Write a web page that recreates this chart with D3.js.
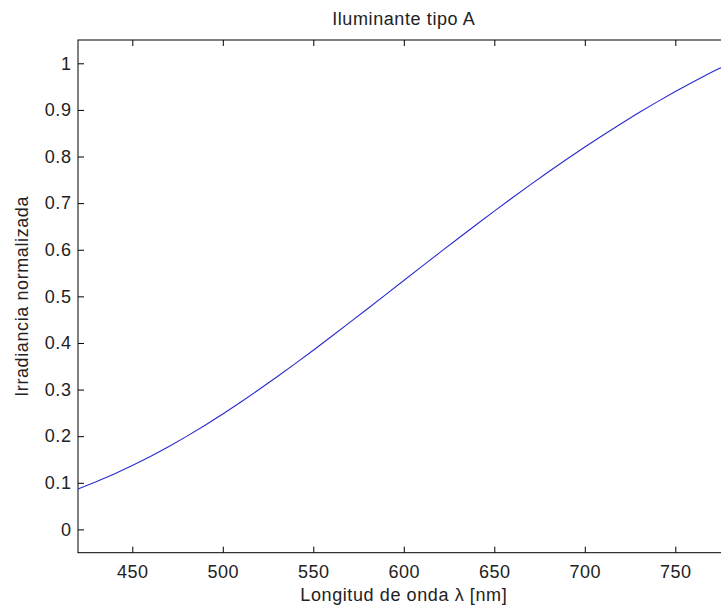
<!DOCTYPE html>
<html>
<head>
<meta charset="utf-8">
<script src="https://cdn.jsdelivr.net/npm/d3@7"></script>
<style>
  html, body { margin: 0; padding: 0; background: #fff; }
  svg { display: block; }
  text { font-family: "Liberation Sans", Arial, sans-serif; fill: #222; letter-spacing: 0.6px; }
</style>
</head>
<body>
<svg id="chart" width="721" height="612"></svg>
<script>
// CIE standard illuminant A, relative spectral power normalized to 780 nm
const wavelengths = [420, 430, 440, 450, 460, 470, 480, 490, 500, 510, 520, 530, 540, 550,
  560, 570, 580, 590, 600, 610, 620, 630, 640, 650, 660, 670, 680, 690, 700,
  710, 720, 730, 740, 750, 760, 770, 780];
const irradiance = [0.0869, 0.1021, 0.1188, 0.1369, 0.1565, 0.1774, 0.1996, 0.2231, 0.2477,
  0.2734, 0.3000, 0.3274, 0.3556, 0.3845, 0.4138, 0.4435, 0.4735, 0.5037, 0.5340,
  0.5642, 0.5943, 0.6241, 0.6537, 0.6829, 0.7116, 0.7397, 0.7673, 0.7942, 0.8204,
  0.8458, 0.8705, 0.8943, 0.9172, 0.9393, 0.9604, 0.9807, 1.0000];
const xTicks = [450, 500, 550, 600, 650, 700, 750];
const yTicks = [0, 0.1, 0.2, 0.3, 0.4, 0.5, 0.6, 0.7, 0.8, 0.9, 1];
const titleText = "Iluminante tipo A";
const xLabel = "Longitud de onda \u03bb [nm]";
const yLabel = "Irradiancia normalizada";

const svg = d3.select("#chart");
const plotL = 78, plotR = 729.6, plotT = 40, plotB = 552.7;
const fontSize = 18;

const x = d3.scaleLinear().domain([420, 780]).range([plotL, plotR]);
const y = d3.scaleLinear().domain([-0.05, 1.05]).range([plotB, plotT]);

const fmt = d => (d === 0 || d === 1) ? String(d) : d.toFixed(1);

// Frame
svg.append("rect")
  .attr("x", plotL).attr("y", plotT)
  .attr("width", plotR - plotL).attr("height", plotB - plotT)
  .attr("fill", "#fff").attr("stroke", "#000").attr("stroke-width", 1);

// Bottom axis (ticks pointing inward)
svg.append("g").attr("transform", `translate(0,${plotB})`)
  .call(d3.axisBottom(x).tickValues(xTicks).tickSizeInner(-6).tickSizeOuter(0).tickPadding(12.5));
// Top ticks
svg.append("g").attr("transform", `translate(0,${plotT})`)
  .call(d3.axisTop(x).tickValues(xTicks).tickSizeInner(-6).tickSizeOuter(0).tickFormat(""));
// Left axis
svg.append("g").attr("transform", `translate(${plotL},0)`)
  .call(d3.axisLeft(y).tickValues(yTicks).tickSizeInner(-6).tickSizeOuter(0).tickPadding(6.5).tickFormat(fmt));

svg.selectAll(".domain").remove();
svg.selectAll(".tick line").attr("stroke", "#000");
svg.selectAll(".tick text").attr("font-size", fontSize).attr("fill", "#222")
  .attr("font-family", "Liberation Sans, Arial, sans-serif");

// Curve
const line = d3.line().x((d, i) => x(wavelengths[i])).y(d => y(d));
svg.append("path")
  .datum(irradiance)
  .attr("d", line)
  .attr("fill", "none")
  .attr("stroke", "#2a2ad0")
  .attr("stroke-width", 1.1);

// Title and labels
svg.append("text").attr("x", (plotL + plotR) / 2).attr("y", 25)
  .attr("text-anchor", "middle").attr("font-size", fontSize).text(titleText);
svg.append("text").attr("x", (plotL + plotR) / 2).attr("y", 601)
  .attr("text-anchor", "middle").attr("font-size", fontSize).text(xLabel);
svg.append("text")
  .attr("transform", `translate(28,${(plotT + plotB) / 2}) rotate(-90)`)
  .attr("text-anchor", "middle").attr("font-size", fontSize).text(yLabel);
</script>
</body>
</html>
